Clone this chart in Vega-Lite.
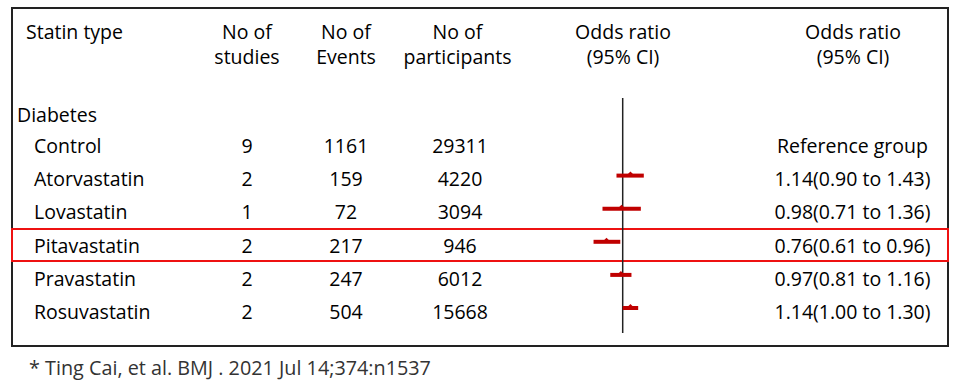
{
  "$schema": "https://vega.github.io/schema/vega-lite/v6.json",
  "width": 936,
  "height": 338,
  "autosize": {"type": "none"},
  "padding": {"left": 12, "top": 8, "right": 12, "bottom": 42},
  "background": "white",
  "config": {
    "view": {"stroke": "#222", "strokeWidth": 2},
    "text": {"font": "Open Sans", "fontSize": 19.5, "fill": "#000"}
  },
  "title": {
    "text": "* Ting Cai, et al. BMJ . 2021 Jul 14;374:n1537",
    "orient": "bottom",
    "anchor": "start",
    "offset": 13,
    "dx": 18,
    "font": "Open Sans",
    "fontSize": 19.8,
    "fontWeight": "normal",
    "color": "#333"
  },
  "datasets": {
    "table": [
      {"statin": "Control", "studies": 9, "events": 1161, "participants": 29311, "or": null, "lo": null, "hi": null, "ci": "Reference group"},
      {"statin": "Atorvastatin", "studies": 2, "events": 159, "participants": 4220, "or": 1.14, "lo": 0.90, "hi": 1.43, "ci": "1.14(0.90 to 1.43)"},
      {"statin": "Lovastatin", "studies": 1, "events": 72, "participants": 3094, "or": 0.98, "lo": 0.71, "hi": 1.36, "ci": "0.98(0.71 to 1.36)"},
      {"statin": "Pitavastatin", "studies": 2, "events": 217, "participants": 946, "or": 0.76, "lo": 0.61, "hi": 0.96, "ci": "0.76(0.61 to 0.96)"},
      {"statin": "Pravastatin", "studies": 2, "events": 247, "participants": 6012, "or": 0.97, "lo": 0.81, "hi": 1.16, "ci": "0.97(0.81 to 1.16)"},
      {"statin": "Rosuvastatin", "studies": 2, "events": 504, "participants": 15668, "or": 1.14, "lo": 1.00, "hi": 1.30, "ci": "1.14(1.00 to 1.30)"}
    ],
    "headers": [
      {"col": "name", "line": "1", "text": "Statin type"},
      {"col": "studies", "line": "1", "text": "No of"},
      {"col": "studies", "line": "2", "text": "studies"},
      {"col": "events", "line": "1", "text": "No of"},
      {"col": "events", "line": "2", "text": "Events"},
      {"col": "participants", "line": "1", "text": "No of"},
      {"col": "participants", "line": "2", "text": "participants"},
      {"col": "plot", "line": "1", "text": "Odds ratio"},
      {"col": "plot", "line": "2", "text": "(95% CI)"},
      {"col": "or", "line": "1", "text": "Odds ratio"},
      {"col": "or", "line": "2", "text": "(95% CI)"}
    ],
    "groups": [{"group": "Diabetes"}],
    "reference": [{"ref": 1}]
  },
  "layer": [
    {
      "data": {"name": "table"},
      "encoding": {
        "y": {
          "field": "statin", "type": "nominal",
          "scale": {"type": "point", "domain": ["Diabetes", "Control", "Atorvastatin", "Lovastatin", "Pitavastatin", "Pravastatin", "Rosuvastatin"], "range": [105.5, 305], "padding": 0},
          "axis": null
        }
      },
      "layer": [
        {
          "mark": {"type": "rect", "height": 32, "fillOpacity": 0, "stroke": "#EE1111", "strokeWidth": 2, "yOffset": -1.5},
          "transform": [{"filter": "datum.statin === 'Pitavastatin'"}]
        },
        {
          "data": {"name": "groups"},
          "mark": {"type": "text", "align": "left", "dy": 2},
          "encoding": {
            "x": {"datum": 5, "type": "quantitative", "scale": {"domain": [0, 936], "nice": false, "zero": false}, "axis": null},
            "y": {"field": "group", "type": "nominal"},
            "text": {"field": "group"}
          }
        },
        {
          "mark": {"type": "text", "align": "left"},
          "encoding": {
            "x": {"datum": 22, "type": "quantitative"},
            "text": {"field": "statin"}
          }
        },
        {
          "mark": {"type": "text", "align": "center"},
          "encoding": {
            "x": {"datum": 235, "type": "quantitative"},
            "text": {"field": "studies", "type": "quantitative", "format": "d"}
          }
        },
        {
          "mark": {"type": "text", "align": "center"},
          "encoding": {
            "x": {"datum": 334, "type": "quantitative"},
            "text": {"field": "events", "type": "quantitative", "format": "d"}
          }
        },
        {
          "mark": {"type": "text", "align": "center"},
          "encoding": {
            "x": {"datum": 448, "type": "quantitative"},
            "text": {"field": "participants", "type": "quantitative", "format": "d"}
          }
        },
        {
          "mark": {"type": "text", "align": "center"},
          "encoding": {
            "x": {"datum": 840.5, "type": "quantitative"},
            "text": {"field": "ci"}
          }
        }
      ]
    },
    {
      "data": {"name": "headers"},
      "encoding": {
        "y": {
          "field": "line", "type": "nominal",
          "scale": {"type": "point", "domain": ["1", "2"], "range": [25.3, 50], "padding": 0},
          "axis": null
        },
        "text": {"field": "text"}
      },
      "layer": [
        {
          "transform": [{"filter": "datum.col === 'name'"}],
          "mark": {"type": "text", "align": "left"},
          "encoding": {"x": {"datum": 14, "type": "quantitative", "scale": {"domain": [0, 936], "nice": false, "zero": false}, "axis": null}}
        },
        {
          "transform": [{"filter": "datum.col === 'studies'"}],
          "mark": {"type": "text", "align": "center"},
          "encoding": {"x": {"datum": 235, "type": "quantitative"}}
        },
        {
          "transform": [{"filter": "datum.col === 'events'"}],
          "mark": {"type": "text", "align": "center"},
          "encoding": {"x": {"datum": 334, "type": "quantitative"}}
        },
        {
          "transform": [{"filter": "datum.col === 'participants'"}],
          "mark": {"type": "text", "align": "center"},
          "encoding": {"x": {"datum": 445.5, "type": "quantitative"}}
        },
        {
          "transform": [{"filter": "datum.col === 'plot'"}],
          "mark": {"type": "text", "align": "center"},
          "encoding": {"x": {"datum": 611, "type": "quantitative"}}
        },
        {
          "transform": [{"filter": "datum.col === 'or'"}],
          "mark": {"type": "text", "align": "center"},
          "encoding": {"x": {"datum": 841, "type": "quantitative"}}
        }
      ]
    },
    {
      "data": {"name": "reference"},
      "mark": {"type": "rule", "stroke": "#222", "strokeWidth": 1.5},
      "encoding": {
        "x": {"field": "ref", "type": "quantitative", "scale": {"type": "log", "domain": [0.5, 2], "range": [569.8, 651.6], "nice": false}, "axis": null},
        "y": {"datum": 0, "type": "quantitative", "scale": {"domain": [0, 1], "range": [90, 325], "nice": false}, "axis": null},
        "y2": {"datum": 1}
      }
    },
    {
      "data": {"name": "table"},
      "transform": [{"filter": "isValid(datum.or)"}],
      "encoding": {
        "y": {
          "field": "statin", "type": "nominal",
          "scale": {"type": "point", "domain": ["Control", "Atorvastatin", "Lovastatin", "Pitavastatin", "Pravastatin", "Rosuvastatin"], "range": [134.5, 300], "padding": 0},
          "axis": null
        }
      },
      "layer": [
        {
          "mark": {"type": "rule", "stroke": "#C00000", "strokeWidth": 4},
          "encoding": {
            "x": {"field": "lo", "type": "quantitative", "scale": {"type": "log", "domain": [0.5, 2], "range": [569.8, 651.6], "nice": false}, "axis": null},
            "x2": {"field": "hi"}
          }
        },
        {
          "mark": {"type": "point", "shape": "M-1,0L0,-1L1,0Z", "filled": true, "size": 64, "fill": "#C00000", "opacity": 1},
          "encoding": {
            "x": {"field": "or", "type": "quantitative"}
          }
        }
      ]
    }
  ],
  "resolve": {"scale": {"x": "independent", "y": "independent"}}
}
